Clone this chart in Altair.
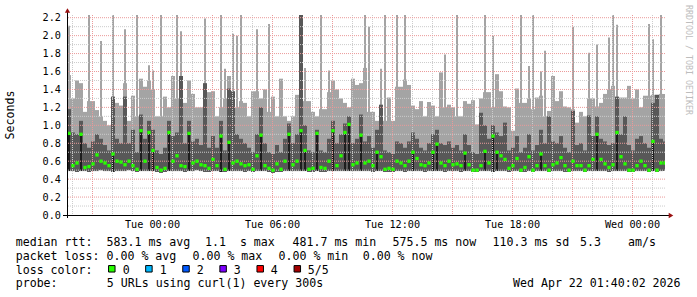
import altair as alt
import pandas as pd

# ---------------- data ----------------
START_H = -4.25      # hours relative to Tue 00:00 (left edge of the graph)
STEP_H = 0.2         # 12-minute columns
END_H = 25.65

# tallest ping in each column (thin spike)
max_s = [2.11, 1.30, 1.50, 1.47, 1.15, 2.23, 1.27, 1.17, 1.94, 1.05,
         1.00, 2.23, 1.25, 1.22, 2.07, 1.05, 1.33, 2.23, 1.52, 1.43,
         1.67, 1.61, 1.10, 2.23, 1.32, 1.20, 1.55, 2.23, 2.05, 1.25,
         1.50, 1.35, 1.20, 1.20, 2.19, 1.37, 1.38, 1.10, 2.23, 1.63,
         1.55, 2.02, 2.00, 2.23, 1.25, 1.10, 1.38, 2.07, 1.30, 1.40,
         2.13, 1.32, 1.10, 1.52, 1.10, 1.05, 1.10, 1.34, 2.23, 1.64,
         1.27, 1.15, 1.10, 2.23, 1.18, 1.61, 1.50, 1.40, 1.30, 1.25,
         1.20, 1.52, 1.45, 1.47, 2.23, 2.10, 1.15, 1.05, 1.63, 2.23,
         1.31, 1.05, 2.23, 1.43, 2.23, 1.45, 1.22, 1.18, 1.27, 1.10,
         1.26, 1.22, 1.10, 1.59, 1.79, 1.23, 1.20, 2.23, 1.10, 1.27,
         1.24, 1.28, 1.01, 1.30, 2.23, 1.37, 2.00, 1.57, 1.38, 1.21,
         1.20, 0.94, 1.41, 2.23, 1.25, 1.66, 2.23, 1.31, 1.60, 1.83,
         1.16, 1.55, 1.27, 1.38, 1.21, 1.20, 2.10, 1.03, 1.15, 1.10,
         1.81, 1.30, 1.90, 1.25, 1.35, 1.98, 2.23, 2.12, 1.31, 1.31,
         1.44, 1.30, 1.40, 1.20, 1.33, 2.13, 1.96, 1.34, 2.23, 1.35]

# top of the outer smoke across the whole column
body_s = [1.56, 1.30, 1.50, 1.47, 1.15, 1.27, 1.27, 1.17, 1.10, 1.05,
          1.00, 1.25, 1.25, 1.22, 1.47, 1.05, 1.33, 1.10, 1.52, 1.43,
          1.50, 1.40, 1.10, 1.10, 1.32, 1.20, 1.55, 1.30, 1.55, 1.25,
          1.50, 1.35, 1.20, 1.20, 1.37, 1.37, 1.38, 1.10, 1.20, 1.30,
          1.55, 1.30, 1.20, 1.27, 1.25, 1.10, 1.38, 1.38, 1.30, 1.40,
          1.15, 1.32, 1.10, 1.52, 1.10, 1.05, 1.10, 1.34, 1.42, 1.27,
          1.27, 1.15, 1.10, 1.18, 1.18, 1.37, 1.50, 1.40, 1.30, 1.25,
          1.20, 1.52, 1.45, 1.47, 1.64, 1.15, 1.15, 1.05, 1.05, 1.05,
          1.31, 1.05, 1.43, 1.43, 1.51, 1.45, 1.22, 1.18, 1.27, 1.10,
          1.26, 1.22, 1.10, 1.59, 1.20, 1.23, 1.20, 1.10, 1.10, 1.27,
          1.24, 1.28, 1.01, 1.30, 1.37, 1.37, 1.20, 1.57, 1.38, 1.21,
          1.20, 0.94, 1.41, 1.25, 1.25, 1.30, 1.18, 1.31, 1.33, 1.10,
          1.16, 1.55, 1.27, 1.38, 1.21, 1.20, 1.18, 1.03, 1.15, 1.10,
          1.30, 1.30, 1.21, 1.25, 1.35, 1.40, 1.44, 1.31, 1.31, 1.31,
          1.44, 1.30, 1.40, 1.20, 1.33, 1.33, 1.34, 1.34, 1.35, 1.35]

dark_s = [1.18, 0.92, 0.90, 1.05, 0.80, 0.75, 0.82, 0.90, 0.85, 0.78,
          0.72, 1.32, 0.85, 0.80, 1.32, 0.80, 0.95, 0.70, 1.12, 0.85,
          1.05, 0.95, 0.72, 0.68, 0.75, 1.05, 0.88, 0.92, 1.55, 0.80,
          1.05, 0.82, 0.85, 0.78, 1.47, 0.75, 0.88, 0.75, 1.05, 0.72,
          1.41, 1.38, 0.90, 0.85, 0.80, 0.75, 0.70, 0.90, 1.20, 0.80,
          0.70, 0.68, 0.78, 0.70, 0.85, 1.02, 0.80, 0.90, 2.23, 1.00,
          0.72, 0.70, 0.95, 0.72, 0.70, 0.85, 1.05, 0.80, 0.90, 1.02,
          1.10, 0.80, 0.85, 1.12, 0.82, 0.88, 0.75, 0.95, 1.23, 0.72,
          0.70, 0.68, 0.82, 0.80, 0.75, 0.82, 0.92, 0.85, 0.75, 0.72,
          0.80, 0.90, 0.95, 0.80, 0.78, 0.82, 0.75, 0.78, 0.72, 0.90,
          0.78, 0.70, 0.68, 1.14, 1.00, 0.85, 1.00, 0.92, 0.88, 1.03,
          0.72, 0.75, 0.88, 0.70, 0.75, 0.90, 0.72, 0.78, 0.95, 0.80,
          1.10, 0.82, 0.80, 0.88, 0.75, 0.70, 1.16, 0.78, 0.80, 0.72,
          1.11, 0.88, 1.10, 0.85, 0.82, 0.78, 0.80, 1.32, 0.90, 1.10,
          0.78, 0.72, 0.85, 0.88, 0.80, 0.75, 1.25, 1.34, 0.85, 0.82]

median_s = [0.91, 0.55, 0.58, 0.90, 0.53, 0.54, 0.57, 0.67, 0.60, 0.58,
            0.55, 0.68, 0.60, 0.59, 0.56, 0.60, 0.55, 0.51, 0.94, 0.60,
            0.92, 0.72, 0.53, 0.50, 0.52, 0.92, 0.60, 0.66, 0.55, 0.54,
            0.91, 0.58, 0.60, 0.56, 0.55, 0.52, 0.62, 0.55, 0.88, 0.51,
            0.81, 0.58, 0.60, 0.57, 0.55, 0.56, 0.51, 0.66, 0.89, 0.55,
            0.52, 0.50, 0.57, 0.51, 0.60, 0.90, 0.56, 0.60, 0.94, 0.72,
            0.51, 0.52, 0.91, 0.53, 0.52, 0.60, 0.94, 0.55, 0.66, 0.92,
            1.01, 0.56, 0.58, 0.89, 0.58, 0.60, 0.55, 0.70, 0.65, 0.51,
            0.52, 0.51, 0.60, 0.58, 0.55, 0.60, 0.70, 0.63, 0.56, 0.55,
            0.58, 0.70, 0.79, 0.58, 0.55, 0.60, 0.56, 0.57, 0.55, 0.69,
            0.56, 0.50, 0.50, 0.55, 0.71, 0.58, 0.88, 0.70, 0.66, 0.62,
            0.52, 0.55, 0.63, 0.50, 0.53, 0.65, 0.50, 0.55, 0.68, 0.55,
            0.50, 0.56, 0.58, 0.64, 0.55, 0.50, 0.60, 0.55, 0.55, 0.50,
            0.55, 0.62, 0.90, 0.62, 0.57, 0.53, 0.56, 0.92, 0.65, 0.57,
            0.50, 0.50, 0.55, 0.60, 0.55, 0.50, 0.82, 0.50, 0.58, 0.58]

low_s = [0.49, 0.49, 0.48, 0.49, 0.49, 0.48, 0.49, 0.49, 0.50, 0.49,
         0.49, 0.48, 0.49, 0.49, 0.49, 0.50, 0.49, 0.48, 0.49, 0.49,
         0.49, 0.49, 0.48, 0.47, 0.48, 0.49, 0.49, 0.49, 0.49, 0.48,
         0.49, 0.49, 0.50, 0.49, 0.48, 0.48, 0.49, 0.49, 0.48, 0.48,
         0.49, 0.49, 0.49, 0.49, 0.48, 0.49, 0.48, 0.49, 0.49, 0.49,
         0.48, 0.47, 0.48, 0.48, 0.49, 0.49, 0.49, 0.49, 0.49, 0.49,
         0.48, 0.48, 0.49, 0.48, 0.48, 0.49, 0.49, 0.49, 0.49, 0.49,
         0.49, 0.49, 0.49, 0.49, 0.49, 0.49, 0.48, 0.49, 0.49, 0.48,
         0.48, 0.48, 0.49, 0.49, 0.48, 0.49, 0.49, 0.49, 0.49, 0.48,
         0.49, 0.49, 0.49, 0.49, 0.48, 0.49, 0.49, 0.49, 0.48, 0.49,
         0.49, 0.48, 0.48, 0.49, 0.49, 0.49, 0.48, 0.49, 0.49, 0.49,
         0.48, 0.49, 0.49, 0.48, 0.48, 0.49, 0.48, 0.49, 0.49, 0.49,
         0.48, 0.49, 0.49, 0.49, 0.48, 0.48, 0.49, 0.49, 0.49, 0.48,
         0.49, 0.49, 0.49, 0.49, 0.49, 0.48, 0.49, 0.49, 0.49, 0.49,
         0.48, 0.48, 0.49, 0.49, 0.49, 0.48, 0.49, 0.48, 0.49, 0.49]

x_tick_hours = [0, 6, 12, 18, 24]
x_tick_labels = ["Tue 00:00", "Tue 06:00", "Tue 12:00", "Tue 18:00", "Wed 00:00"]
y_tick_values = [0.0, 0.2, 0.4, 0.6, 0.8, 1.0, 1.2, 1.4, 1.6, 1.8, 2.0, 2.2]
grid_hours = list(range(-4, 26))
grid_y = [0.1, 0.2, 0.3, 0.4, 0.5, 0.6, 0.7, 0.8, 0.9, 1.0, 1.1,
          1.2, 1.3, 1.4, 1.5, 1.6, 1.7, 1.8, 1.9, 2.0, 2.1, 2.2]

loss_labels = ["0", "1", "2", "3", "4", "5/5"]
loss_colors = ["#26ff00", "#00b8ff", "#0059ff", "#7e00ff", "#ff0000", "#a10000"]

# ---------------- layout constants ----------------
W, H = 598, 200
PL, PT = 67, 15
MONO = "DejaVu Sans Mono"
LEG = 11.6
AX = 10.2
NB = "\u00a0"

n = len(max_s)
t0 = [START_H + STEP_H * i for i in range(n)]
df = pd.DataFrame({
    "t0": t0,
    "t1": [t + STEP_H for t in t0],
    "tc": [t + STEP_H / 2 for t in t0],
    "b0": [t + STEP_H / 2 - 0.05 for t in t0],
    "b1": [t + STEP_H / 2 + 0.05 for t in t0],
    "low": low_s, "body": body_s, "hi": max_s, "dark": dark_s, "med": median_s,
})

xs = alt.Scale(domain=[START_H, END_H], nice=False, zero=False)
ys = alt.Scale(domain=[0, 2.23], nice=False, zero=True)

label_expr = " : ".join(
    f"datum.value == {h} ? '{l}'" for h, l in zip(x_tick_hours, x_tick_labels)
) + " : ''"

X0 = alt.X("t0:Q", scale=xs,
           axis=alt.Axis(values=x_tick_hours, labelExpr=label_expr, title=None,
                         grid=False, ticks=False, tickSize=0, domain=False,
                         labelFont=MONO, labelFontSize=AX, labelColor="black",
                         labelBaseline="alphabetic", labelPadding=12.5,
                         labelFlush=False, labelOverlap=False))
Y0 = alt.Y("low:Q", scale=ys,
           axis=alt.Axis(values=y_tick_values, format=".1f", title=None,
                         grid=False, ticks=False, tickSize=0, domain=False,
                         labelFont=MONO, labelFontSize=AX, labelColor="black",
                         labelPadding=6.5, labelBaseline="middle",
                         labelOverlap=False, labelFlush=False))


def X(f):
    return alt.X(f, scale=xs, axis=None)


def Y(f):
    return alt.Y(f, scale=ys, axis=None)


base = alt.Chart(df)
light = base.mark_rect(color="#a4a4a4", clip=True).encode(
    x=X0, x2="t1:Q", y=Y0, y2="body:Q")
spike = base.transform_filter("datum.hi > datum.body").mark_rect(
    color="#a4a4a4", clip=True).encode(
    x=X("b0:Q"), x2="b1:Q", y=Y("low:Q"), y2="hi:Q")
dark = base.mark_rect(color="#585858", clip=True).encode(
    x=X("t0:Q"), x2="t1:Q", y=Y("low:Q"), y2="dark:Q")
black = base.transform_filter("datum.med >= 0.68").mark_rect(
    color="#1e1e1e", clip=True).encode(
    x=X("b0:Q"), x2="b1:Q", y=Y("low:Q"), y2="med:Q")
green = base.mark_square(color="#26ff00", size=11, opacity=1, clip=True).encode(
    x=X("tc:Q"), y=Y("med:Q"))

gv = pd.DataFrame({"h": grid_hours, "major": [h % 3 == 0 for h in grid_hours]})
gh = pd.DataFrame({"v": grid_y, "major": [round(v * 10) % 2 == 0 for v in grid_y]})

grid_v_minor = alt.Chart(gv).transform_filter("!datum.major").mark_rule(
    color="#cccccc", strokeDash=[1, 1], strokeWidth=1, xOffset=0.5).encode(
    x=X("h:Q"))
grid_v_major = alt.Chart(gv).transform_filter("datum.major").mark_rule(
    color="#eb9a9a", strokeDash=[1, 1], strokeWidth=1, xOffset=0.5).encode(
    x=X("h:Q"))
grid_h_minor = alt.Chart(gh).transform_filter("!datum.major").mark_rule(
    color="#cccccc", strokeDash=[1, 1], strokeWidth=1).encode(
    y=Y("v:Q"))
grid_h_major = alt.Chart(gh).transform_filter("datum.major").mark_rule(
    color="#eb9a9a", strokeDash=[1, 1], strokeWidth=1).encode(
    y=Y("v:Q"))

one = pd.DataFrame({"a": [1]})
x_axis_line = alt.Chart(one).mark_rule(color="black", strokeWidth=1).encode(
    x=alt.value(-4), x2=alt.value(602), y=alt.value(200.5))
y_axis_line = alt.Chart(one).mark_rule(color="black", strokeWidth=1).encode(
    x=alt.value(0.5), y=alt.value(203), y2=alt.value(-3))
arrow_x = alt.Chart(one).mark_point(
    shape="triangle-right", filled=True, color="#9a1010", size=28, opacity=1).encode(
    x=alt.value(604), y=alt.value(200.5))
arrow_y = alt.Chart(one).mark_point(
    shape="triangle-up", filled=True, color="#9a1010", size=28, opacity=1).encode(
    x=alt.value(0.5), y=alt.value(-4.5))

# legend / comment text, positioned in page pixels (converted to plot-relative)
segments = [
    ("median rtt:", 15.7, 246), ("583.1 ms avg", 106.5, 246), ("1.1" + NB + NB + "s max", 205, 246),
    ("481.7 ms min", 292.5, 246), ("575.5 ms now", 392.5, 246), ("110.3 ms sd", 492.5, 246),
    ("5.3", 580, 246), ("am/s", 628, 246),
    ("packet loss:", 15.7, 260), ("0.00 % avg", 106.5, 260), ("0.00 % max", 192.5, 260),
    ("0.00 % min", 278.5, 260), ("0.00 % now", 362.7, 260),
    ("loss color:", 15.7, 273.5),
    ("probe:", 15.7, 287.3), ("5 URLs using curl(1) every 300s", 106.8, 287.3),
    ("Wed Apr 22 01:40:02 2026", 513, 287.3),
]
for i, lab in enumerate(loss_labels):
    segments.append((lab, 122.7 + 37.0 * i, 273.5))
seg_df = pd.DataFrame({
    "text": [s[0] for s in segments],
    "px": [s[1] - PL for s in segments],
    "py": [s[2] - PT for s in segments],
})
legend_text = alt.Chart(seg_df).mark_text(
    font=MONO, fontSize=LEG, align="left", baseline="alphabetic", color="black").encode(
    x=alt.X("px:Q", scale=None), y=alt.Y("py:Q", scale=None), text="text:N")

sq_df = pd.DataFrame({
    "lab": loss_labels, "col": loss_colors,
    "px": [111.8 + 37.1 * i - PL for i in range(len(loss_labels))],
    "py": [268.8 - PT] * len(loss_labels),
})
loss_squares = alt.Chart(sq_df).mark_square(
    size=42, stroke="black", strokeWidth=1, opacity=1).encode(
    x=alt.X("px:Q", scale=None), y=alt.Y("py:Q", scale=None),
    fill=alt.Fill("col:N", scale=None))

y_title = alt.Chart(pd.DataFrame({"t": ["Seconds"]})).mark_text(
    font=MONO, fontSize=LEG, angle=270, align="center", baseline="middle",
    color="black").encode(x=alt.value(11 - PL), y=alt.value(115 - PT), text="t:N")
watermark = alt.Chart(pd.DataFrame({"t": ["RRDTOOL / TOBI OETIKER"]})).mark_text(
    font=MONO, fontSize=8.3, angle=90, align="center", baseline="middle",
    color="#bdbdbd").encode(x=alt.value(688 - PL), y=alt.value(60 - PT), text="t:N")

chart = alt.layer(
    light, spike, dark, black,
    grid_v_minor, grid_h_minor, grid_v_major, grid_h_major,
    green,
    x_axis_line, y_axis_line, arrow_x, arrow_y,
    legend_text, loss_squares, y_title, watermark,
).resolve_axis(x="independent", y="independent").properties(
    width=W, height=H,
    padding={"left": PL, "top": PT, "right": 697 - PL - W, "bottom": 297 - PT - H},
    autosize=alt.AutoSizeParams(type="none"),
    background="white",
).configure_view(stroke=None)

chart.save("out.html", embed_options={"renderer": "svg", "actions": False})
